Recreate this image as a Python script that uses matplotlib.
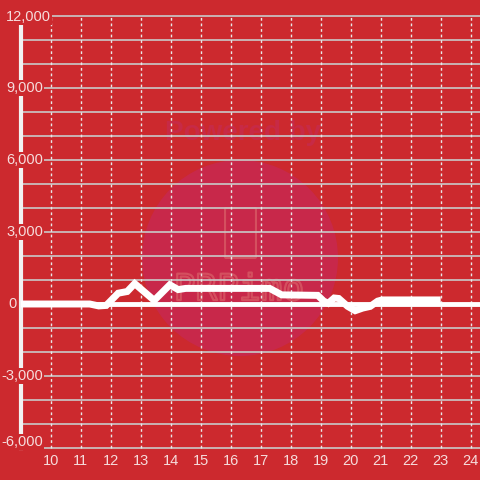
import matplotlib
matplotlib.use("Agg")
import matplotlib.pyplot as plt
from matplotlib.patches import Ellipse, FancyBboxPatch
import matplotlib.patheffects as pe

# ---- data ----
x_vals = [9, 11.3, 11.6, 11.85, 12.25, 12.55, 12.8, 13.45, 13.97, 14.25, 14.5,
          17.3, 17.7, 18.9, 19.1, 19.25, 19.45, 19.6, 19.9, 20.15, 20.4, 20.65,
          20.9, 21.05, 23.0]
y_vals = [0, 0, -80, -60, 450, 520, 850, 150, 800, 600, 650,
          650, 380, 360, 120, 30, 250, 230, -100, -280, -170, -100,
          120, 170, 170]
x_ticks = list(range(10, 25))
y_ticks = [-6000, -3000, 0, 3000, 6000, 9000, 12000]
y_tick_labels = ["-6,000", "-3,000", "0", "3,000", "6,000", "9,000", "12,000"]

BG = "#cc292e"
TXT = "#f6dcdc"
GRID = "#c9c9c9"
W, H = 480, 480

plt.rcParams['font.family'] = ['Liberation Sans', 'DejaVu Sans']
fig = plt.figure(figsize=(4.8, 4.8), dpi=100, facecolor=BG)

# axes: px x 21..480, y 14..450 (top)
ax = fig.add_axes([21 / W, (480 - 450) / H, (480 - 21) / W, (450 - 14) / H])
ax.set_facecolor("none")
px_per_x = 30.0
px_per_y = 24.0 / 1000
x_left = 10 + (21 - 50.7) / px_per_x
x_right = 10 + (480 - 50.7) / px_per_x
y_top = 12000 + 2 / px_per_y
y_bot = -6000 - 2 / px_per_y
ax.set_xlim(x_left, x_right)
ax.set_ylim(y_bot, y_top)
for s in ax.spines.values():
    s.set_visible(False)
ax.set_xticks([])
ax.set_yticks([])

# watermark (behind gridlines)
circ = Ellipse((240 / W, 1 - 258 / H), 196 / W, 196 / H,
               transform=fig.transFigure, facecolor="#c8284a",
               edgecolor="none", zorder=0.1, clip_on=False)
ax.add_artist(circ)
ax.text(243 / W, 1 - 133 / H, "Powered by", ha="center", va="center",
        fontsize=20, fontweight="bold", color="#c72a46", zorder=0.2,
        transform=fig.transFigure)
box = FancyBboxPatch((226 / W, 1 - 257 / H), 29 / W, 48 / H,
                     boxstyle="round,pad=0.002",
                     transform=fig.transFigure, facecolor="none",
                     edgecolor="#d4505f", linewidth=1.5, zorder=0.2, clip_on=False)
ax.add_artist(box)
t = ax.text(239 / W, 1 - 290 / H, "PRPimo", ha="center", va="center",
            fontsize=26, family="DejaVu Sans Mono", color="none", zorder=0.2,
            transform=fig.transFigure)
t.set_path_effects([pe.Stroke(linewidth=1.6, foreground="#d4505f")])

# horizontal gridlines every 1000
for v in range(-6000, 12001, 1000):
    ax.axhline(v, color=GRID, lw=1.2, zorder=1)
# vertical dashed gridlines
for xv in x_ticks:
    ax.plot([xv, xv], [-6000, 12000], color="#e8e8e8", lw=1,
            linestyle=(0, (2, 2)), zorder=1)

# zero line
ax.axhline(0, color="white", lw=3.5, zorder=2)
# y axis line
ax.plot([9.0 + 0.01, 9.0 + 0.01], [-6000, 12000], color="#f2f2f2", lw=3,
        zorder=2, clip_on=False)

# data line
ax.plot(x_vals, y_vals, color="white", lw=5, zorder=3,
        solid_joinstyle="miter", solid_capstyle="butt")

# y labels with background boxes
for v, lab in zip(y_ticks, y_tick_labels):
    ypx = 304 - v * px_per_y
    if v == 12000:
        xpx, ha = 6, "left"
        ypx = 17
    elif v == 0:
        xpx, ha = 8, "left"
    else:
        xpx, ha = 43, "right"
    if v == -6000:
        ypx = 442
    fig.text(xpx / W, 1 - ypx / H, lab, ha=ha, va="center", fontsize=10.5,
             color=TXT, zorder=5,
             bbox=dict(boxstyle="square,pad=0.1", facecolor=BG, edgecolor="none"))

# x labels
for xv in x_ticks:
    xpx = 50.7 + (xv - 10) * px_per_x
    fig.text(xpx / W, 1 - 461 / H, str(xv), ha="center", va="center",
             fontsize=10.5, color=TXT, zorder=5)

fig.savefig("out.png", dpi=100, facecolor=BG)
